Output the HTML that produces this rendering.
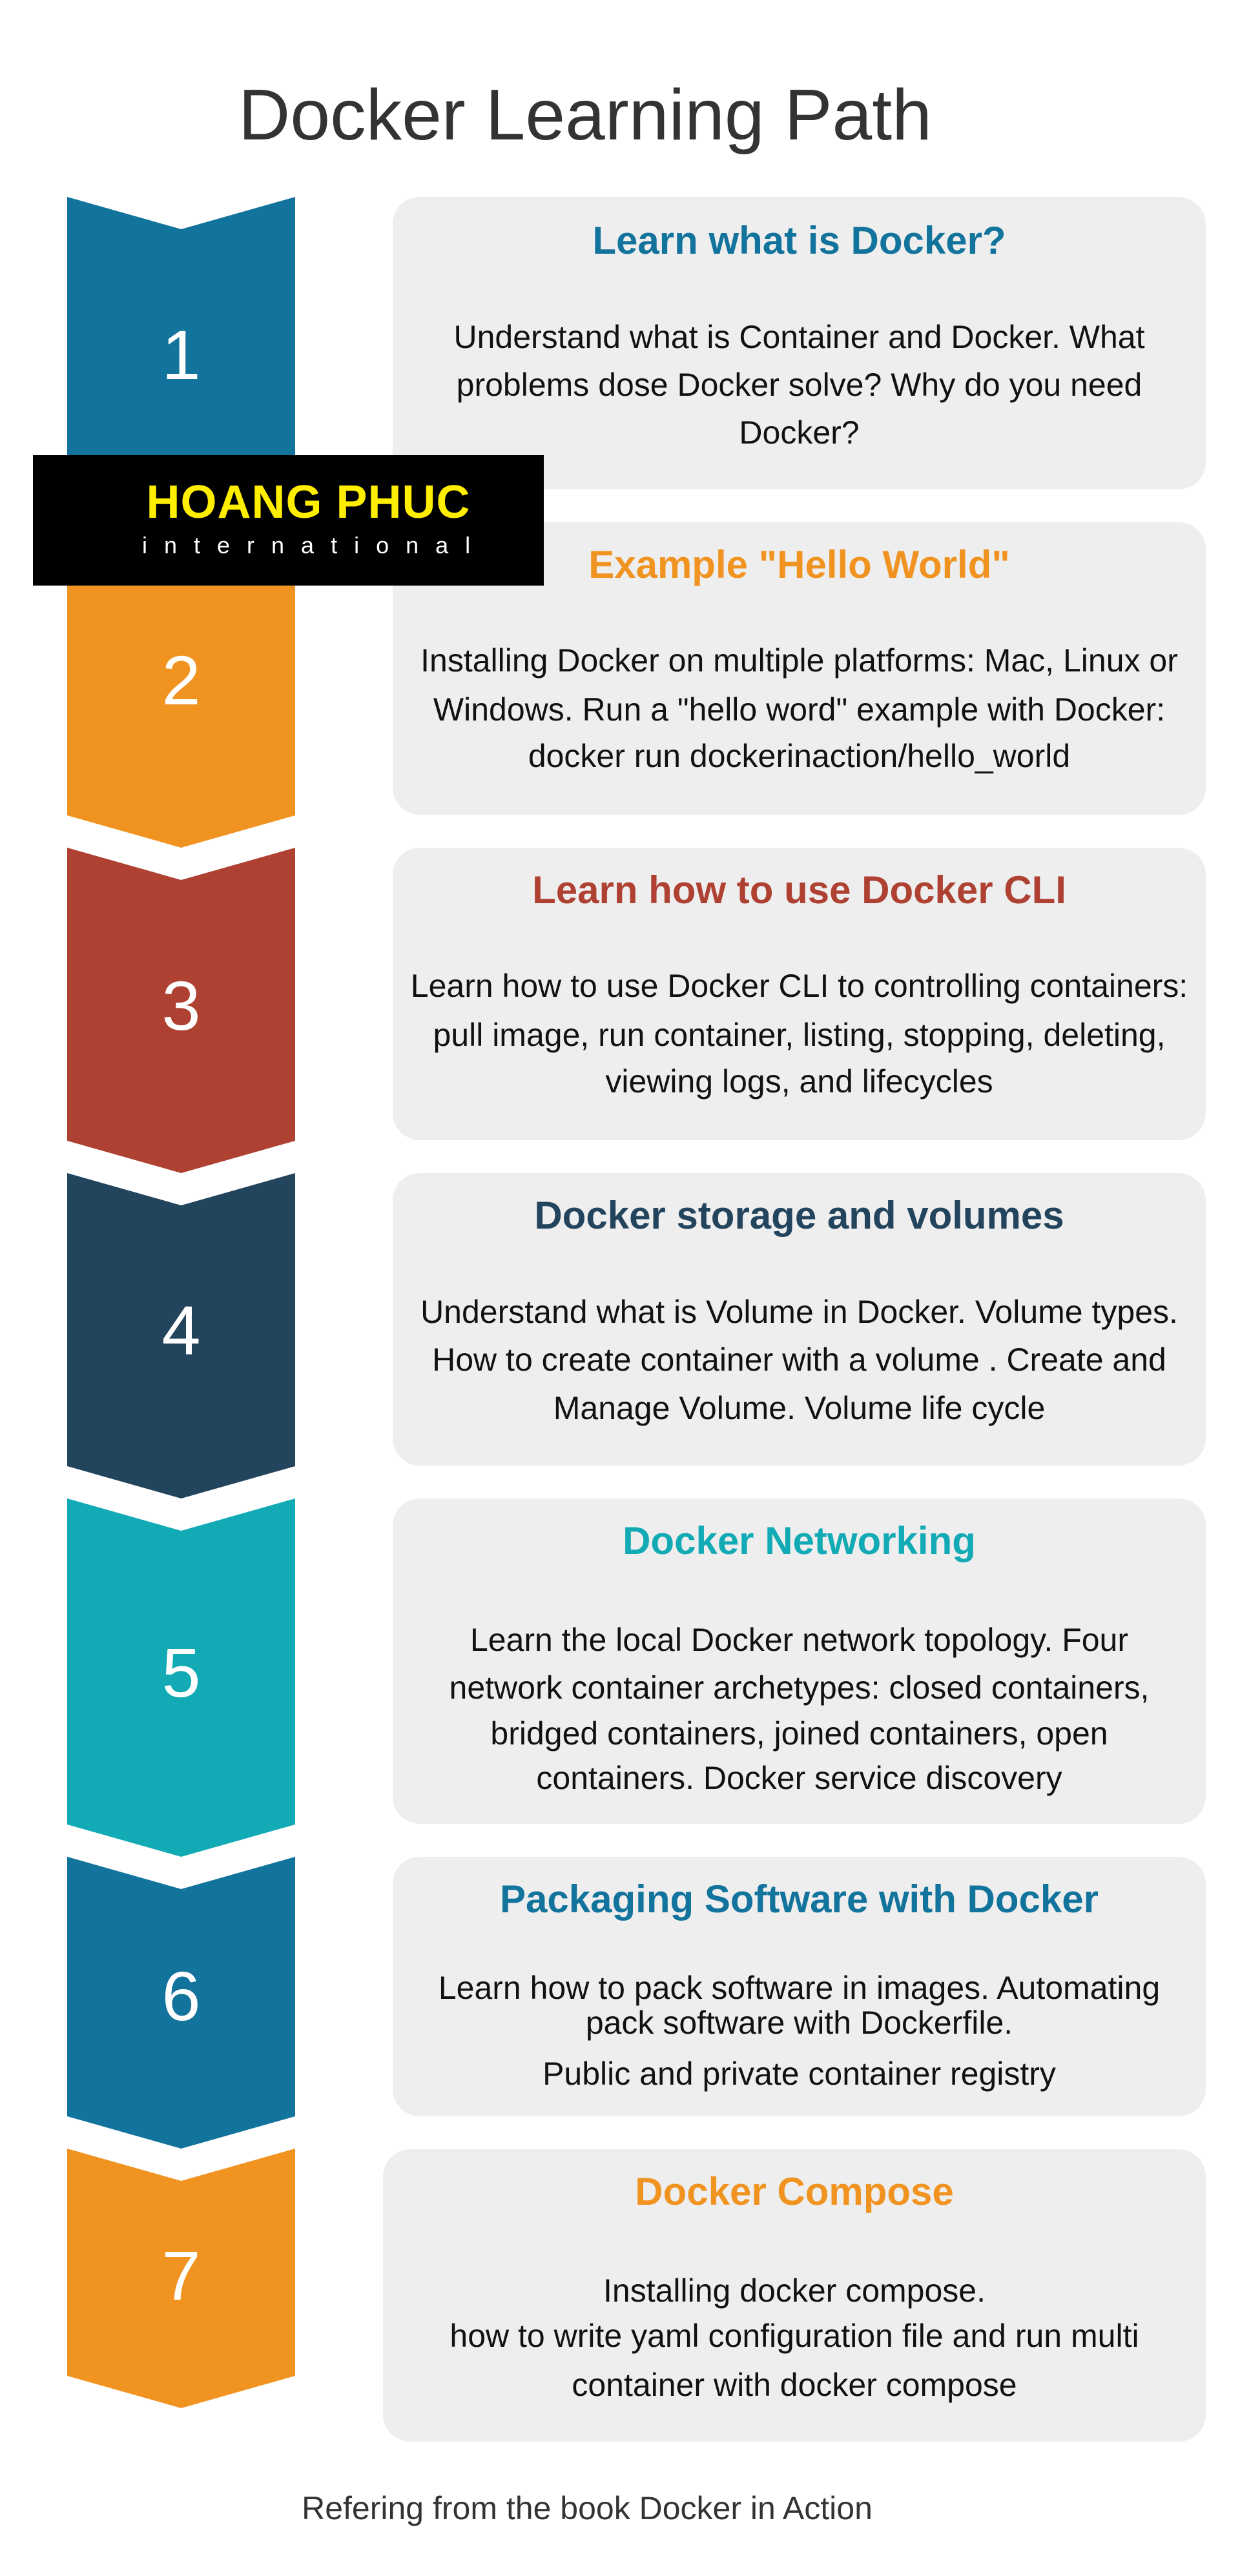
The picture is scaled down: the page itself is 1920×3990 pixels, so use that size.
<!DOCTYPE html>
<html><head><meta charset="utf-8"><style>
*{margin:0;padding:0;box-sizing:border-box}
body{width:1920px;height:3990px;background:#fff;position:relative;overflow:hidden;font-family:"Liberation Sans",Arial,sans-serif}
.a{position:absolute}
.card{position:absolute;background:#eeeeee;border-radius:42px;left:608px;width:1259px}
.t{position:absolute;left:608px;width:1259px;text-align:center;font-weight:bold;font-size:60px;height:80px;line-height:80px}
.b{position:absolute;left:608px;width:1259px;text-align:center;font-size:50px;height:70px;line-height:70px;color:#111;white-space:nowrap}
.n{position:absolute;left:104px;width:353px;text-align:center;color:#fff;font-size:108px;height:130px;line-height:130px}
</style></head><body>
<div class="a" style="left:0;width:1812px;top:108px;text-align:center;font-size:111px;line-height:140px;color:#333">Docker Learning Path</div>

<svg class="a" style="left:0;top:0" width="1920" height="3990">
<polygon points="104,305 280.5,355 457,305 457,759 280.5,809 104,759" fill="#12739c"/>
<polygon points="104,809 280.5,859 457,809 457,1263 280.5,1313 104,1263" fill="#f09320"/>
<polygon points="104,1313 280.5,1363 457,1313 457,1767 280.5,1817 104,1767" fill="#ae4132"/>
<polygon points="104,1817 280.5,1867 457,1817 457,2271 280.5,2321 104,2271" fill="#23445d"/>
<polygon points="104,2321 280.5,2371 457,2321 457,2826 280.5,2876 104,2826" fill="#12aab5"/>
<polygon points="104,2876 280.5,2926 457,2876 457,3278 280.5,3328 104,3278" fill="#12739c"/>
<polygon points="104,3328 280.5,3378 457,3328 457,3680 280.5,3730 104,3680" fill="#f09320"/>
</svg>

<div class="card" style="top:305px;height:453px"></div>
<div class="card" style="top:809px;height:453px"></div>
<div class="card" style="top:1313px;height:453px"></div>
<div class="card" style="top:1817px;height:453px"></div>
<div class="card" style="top:2321px;height:504px"></div>
<div class="card" style="top:2876px;height:402px"></div>
<div class="card" style="top:3329px;height:453px;left:593px;width:1274px"></div>

<div class="n" style="top:485px">1</div>
<div class="n" style="top:989px">2</div>
<div class="n" style="top:1493px">3</div>
<div class="n" style="top:1996px">4</div>
<div class="n" style="top:2526px">5</div>
<div class="n" style="top:3027px">6</div>
<div class="n" style="top:3460px">7</div>

<div class="t" style="top:333px;color:#12739c">Learn what is Docker?</div>
<div class="b" style="top:487px">Understand what is Container and Docker. What</div>
<div class="b" style="top:561px">problems dose Docker solve? Why do you need</div>
<div class="b" style="top:635px">Docker?</div>

<div class="t" style="top:835px;color:#f09320">Example "Hello World"</div>
<div class="b" style="top:988px">Installing Docker on multiple platforms: Mac, Linux or</div>
<div class="b" style="top:1064px">Windows. Run a "hello word" example with Docker:</div>
<div class="b" style="top:1136px">docker run dockerinaction/hello_world</div>

<div class="t" style="top:1339px;color:#ae4132">Learn how to use Docker CLI</div>
<div class="b" style="top:1492px">Learn how to use Docker CLI to controlling containers:</div>
<div class="b" style="top:1568px">pull image, run container, listing, stopping, deleting,</div>
<div class="b" style="top:1640px">viewing logs, and lifecycles</div>

<div class="t" style="top:1843px;color:#23445d">Docker storage and volumes</div>
<div class="b" style="top:1997px">Understand what is Volume in Docker. Volume types.</div>
<div class="b" style="top:2071px">How to create container with a volume . Create and</div>
<div class="b" style="top:2146px">Manage Volume. Volume life cycle</div>

<div class="t" style="top:2347px;color:#12aab5">Docker Networking</div>
<div class="b" style="top:2505px">Learn the local Docker network topology. Four</div>
<div class="b" style="top:2579px">network container archetypes: closed containers,</div>
<div class="b" style="top:2650px">bridged containers, joined containers, open</div>
<div class="b" style="top:2719px">containers. Docker service discovery</div>

<div class="t" style="top:2902px;color:#12739c">Packaging Software with Docker</div>
<div class="b" style="top:3044px">Learn how to pack software in images. Automating</div>
<div class="b" style="top:3098px">pack software with Dockerfile.</div>
<div class="b" style="top:3177px">Public and private container registry</div>

<div class="t" style="top:3355px;left:593px;width:1274px;color:#f09320">Docker Compose</div>
<div class="b" style="top:3513px;left:593px;width:1274px">Installing docker compose.</div>
<div class="b" style="top:3583px;left:593px;width:1274px">how to write yaml configuration file and run multi</div>
<div class="b" style="top:3659px;left:593px;width:1274px">container with docker compose</div>

<div class="a" style="left:51px;top:705px;width:791px;height:202px;background:#000"></div>
<div class="a" style="left:51px;top:738px;width:853px;text-align:center;font-weight:bold;font-size:72px;line-height:80px;color:#ffee00;letter-spacing:1px">HOANG PHUC</div>
<div class="a" style="left:220px;top:822px;width:560px;font-size:36px;line-height:46px;color:#fff;letter-spacing:26px;white-space:nowrap">international</div>

<div class="a" style="left:0;width:1818px;top:3855px;text-align:center;font-size:50px;line-height:60px;color:#333">Refering from the book Docker in Action</div>
</body></html>
